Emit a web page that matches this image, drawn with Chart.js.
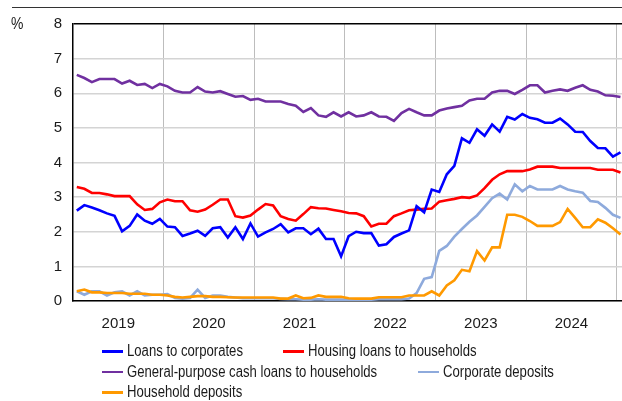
<!DOCTYPE html>
<html>
<head>
<meta charset="utf-8">
<script src="https://cdn.jsdelivr.net/npm/chart.js@4.4.1/dist/chart.umd.min.js"></script>
<style>
    html, body { margin: 0; padding: 0; background: #fff; }
    #wrap { position: relative; width: 622px; height: 401px; overflow: hidden;
            font-family: "Liberation Sans", Arial, sans-serif; color: #1a1a1a; }
    #rule { position: absolute; left: 12px; right: 0; top: 7px; height: 1px; background: #333; }
    .narrow { display: inline-block; transform: scaleX(0.82); transform-origin: 0 50%; white-space: nowrap; }
    #unit { position: absolute; left: 11px; top: 14px; font-size: 17px; line-height: 20px; }
    .item { position: absolute; height: 20px; line-height: 20px; font-size: 16px; }
    .swatch { position: absolute; top: 9px; left: -25px; width: 21px; height: 2.5px; }
</style>
</head>
<body>
<div id="wrap">
    <div id="rule"></div>
    <div id="unit"><span class="narrow">%</span></div>
    <canvas id="ratesChart" width="622" height="401"></canvas>
    <div id="legend"></div>
</div>
<script>
// Monthly data, Jan 2019 - Jan 2025
const months = [];
for (let y = 2019; y <= 2025; y++) {
    for (let m = 1; m <= 12; m++) {
        if (y === 2025 && m > 1) break;
        months.push(y + '-' + String(m).padStart(2, '0'));
    }
}
const yearLabels = ['2019', '2020', '2021', '2022', '2023', '2024'];

const loansCorporates = [
    2.61, 2.77, 2.7, 2.62, 2.53, 2.46, 2.01, 2.17, 2.5, 2.32, 2.23, 2.37, 2.15, 2.13, 1.88, 1.95, 2.03,
    1.88, 2.1, 2.13, 1.83, 2.13, 1.79, 2.24, 1.86, 1.98, 2.08, 2.22, 1.98, 2.1, 2.1, 1.93, 2.09,
    1.79, 1.79, 1.29, 1.87, 2.0, 1.96, 1.96, 1.6, 1.64, 1.85, 1.95, 2.04, 2.74, 2.56, 3.22,
    3.15, 3.66, 3.9, 4.7, 4.57, 4.96, 4.77, 5.1, 4.89, 5.32, 5.24, 5.4, 5.29, 5.25, 5.15, 5.15,
    5.27, 5.1, 4.89, 4.88, 4.62, 4.42, 4.41, 4.17, 4.29
];
const housingLoans = [
    3.29, 3.24, 3.12, 3.12, 3.08, 3.03, 3.03, 3.03, 2.79, 2.63, 2.66, 2.85, 2.93, 2.88, 2.88, 2.62, 2.58,
    2.64, 2.78, 2.93, 2.93, 2.45, 2.41, 2.47, 2.64, 2.8, 2.76, 2.45, 2.37, 2.32, 2.51, 2.71, 2.68,
    2.67, 2.63, 2.59, 2.54, 2.53, 2.45, 2.15, 2.23, 2.23, 2.45, 2.53, 2.62, 2.64, 2.66, 2.67,
    2.87, 2.91, 2.95, 3.0, 2.98, 3.05, 3.26, 3.5, 3.66, 3.75, 3.75, 3.75, 3.8, 3.88, 3.88, 3.88,
    3.84, 3.84, 3.84, 3.84, 3.84, 3.79, 3.79, 3.79, 3.71
];
const cashLoans = [
    6.53, 6.44, 6.32, 6.41, 6.41, 6.41, 6.28, 6.36, 6.24, 6.27, 6.15, 6.27, 6.2, 6.07, 6.02, 6.02, 6.18,
    6.05, 6.02, 6.06, 5.98, 5.9, 5.92, 5.81, 5.84, 5.76, 5.76, 5.76, 5.69, 5.64, 5.46, 5.57, 5.36,
    5.32, 5.45, 5.33, 5.45, 5.33, 5.36, 5.45, 5.33, 5.32, 5.2, 5.43, 5.55, 5.45, 5.36, 5.36,
    5.5, 5.56, 5.6, 5.64, 5.79, 5.84, 5.84, 6.02, 6.07, 6.07, 5.98, 6.1, 6.23, 6.23, 6.02, 6.07,
    6.11, 6.07, 6.16, 6.23, 6.1, 6.05, 5.94, 5.93, 5.89
];
const corporateDeposits = [
    0.28, 0.18, 0.28, 0.28, 0.16, 0.25, 0.28, 0.16, 0.28, 0.16, 0.18, 0.18, 0.2, 0.09, 0.07, 0.09, 0.33,
    0.09, 0.16, 0.16, 0.12, 0.1, 0.08, 0.08, 0.08, 0.08, 0.08, 0.06, 0.05, 0.05, 0.04, 0.04, 0.05,
    0.04, 0.04, 0.04, 0.04, 0.04, 0.04, 0.04, 0.05, 0.05, 0.05, 0.05, 0.07, 0.23, 0.64, 0.69,
    1.45, 1.59, 1.86, 2.08, 2.29, 2.47, 2.72, 2.97, 3.1, 2.93, 3.37, 3.17, 3.32, 3.22, 3.22, 3.22,
    3.32, 3.22, 3.17, 3.13, 2.89, 2.86, 2.69, 2.49, 2.4
];
const householdDeposits = [
    0.28, 0.33, 0.25, 0.25, 0.23, 0.23, 0.23, 0.21, 0.21, 0.21, 0.18, 0.18, 0.16, 0.12, 0.1, 0.12, 0.14,
    0.14, 0.12, 0.12, 0.11, 0.1, 0.1, 0.1, 0.1, 0.1, 0.1, 0.07, 0.07, 0.16, 0.08, 0.09, 0.16,
    0.12, 0.12, 0.12, 0.08, 0.07, 0.07, 0.07, 0.11, 0.11, 0.11, 0.11, 0.16, 0.16, 0.16, 0.28,
    0.16, 0.45, 0.6, 0.9, 0.86, 1.44, 1.17, 1.55, 1.55, 2.49, 2.49, 2.43, 2.31, 2.17, 2.17, 2.17,
    2.28, 2.66, 2.4, 2.13, 2.13, 2.36, 2.26, 2.1, 1.92
];

// ticks: year labels sit mid-year, grid lines at year boundaries
const labelTicks = yearLabels.map((_, i) => i * 12 + 5.5);
const gridTicks = yearLabels.map((_, i) => i * 12 + 11.5);

function toPoints(values) {
    return values.map((v, i) => ({ x: i, y: v }));
}

const series = [
    { label: 'Loans to corporates', values: loansCorporates, color: '#0000ff', order: 0 },
    { label: 'Housing loans to households', values: housingLoans, color: '#ff0000', order: 1 },
    { label: 'General-purpose cash loans to households', values: cashLoans, color: '#7030a0', order: 2 },
    { label: 'Corporate deposits', values: corporateDeposits, color: '#8eaadc', order: 4 },
    { label: 'Household deposits', values: householdDeposits, color: '#ff9900', order: 3 }
];

// legend slots (text left edge, row centre)
const legendPos = [[127, 351], [308, 351], [127, 371.5], [443, 371.5], [127, 392]];

const tickFont = { family: '"Liberation Sans", Arial, sans-serif', size: 15 };

const chart = new Chart(document.getElementById('ratesChart'), {
    type: 'line',
    data: {
        datasets: series.map(s => ({
            label: s.label,
            data: toPoints(s.values),
            borderColor: s.color,
            backgroundColor: s.color,
            borderWidth: 2.6,
            pointRadius: 0,
            tension: 0,
            order: s.order
        }))
    },
    options: {
        responsive: false,
        animation: false,
        devicePixelRatio: 1,
        layout: { padding: { top: 24, right: 0, bottom: 60, left: 0 } },
        plugins: {
            legend: { display: false },
            tooltip: { enabled: false }
        },
        scales: {
            x: {
                type: 'linear',
                min: -0.5,
                max: 72.2,
                afterFit: scale => {
                    scale.height = 40;
                    scale.paddingLeft = 0;
                    scale.paddingRight = 0;
                },
                afterBuildTicks: scale => {
                    scale.ticks = labelTicks.concat(gridTicks).sort((a, b) => a - b).map(v => ({ value: v }));
                },
                border: { color: '#000', width: 1.5 },
                grid: {
                    drawTicks: false,
                    color: ctx => (ctx.tick && gridTicks.includes(ctx.tick.value)) ? '#bdbdbd' : 'rgba(0,0,0,0)',
                    lineWidth: 1
                },
                ticks: {
                    autoSkip: false,
                    maxRotation: 0,
                    padding: 14,
                    color: '#1a1a1a',
                    font: tickFont,
                    callback: value => {
                        const idx = labelTicks.indexOf(value);
                        return idx >= 0 ? yearLabels[idx] : '';
                    }
                }
            },
            y: {
                min: 0,
                max: 8,
                afterFit: scale => { scale.width = 73; },
                border: { color: '#000', width: 1.5 },
                grid: {
                    drawTicks: false,
                    color: ctx => (ctx.tick && ctx.tick.value === 8) ? '#000' : '#d4d4d4',
                    lineWidth: 1.4
                },
                ticks: {
                    stepSize: 1,
                    padding: 11,
                    color: '#1a1a1a',
                    font: tickFont
                }
            }
        }
    }
});

// HTML legend built from the datasets
const legendEl = document.getElementById('legend');
series.forEach((s, i) => {
    const item = document.createElement('div');
    item.className = 'item';
    item.style.left = legendPos[i][0] + 'px';
    item.style.top = (legendPos[i][1] - 10) + 'px';
    const sw = document.createElement('span');
    sw.className = 'swatch';
    sw.style.background = s.color;
    const txt = document.createElement('span');
    txt.className = 'narrow';
    txt.textContent = s.label;
    item.appendChild(sw);
    item.appendChild(txt);
    legendEl.appendChild(item);
});
</script>
</body>
</html>
